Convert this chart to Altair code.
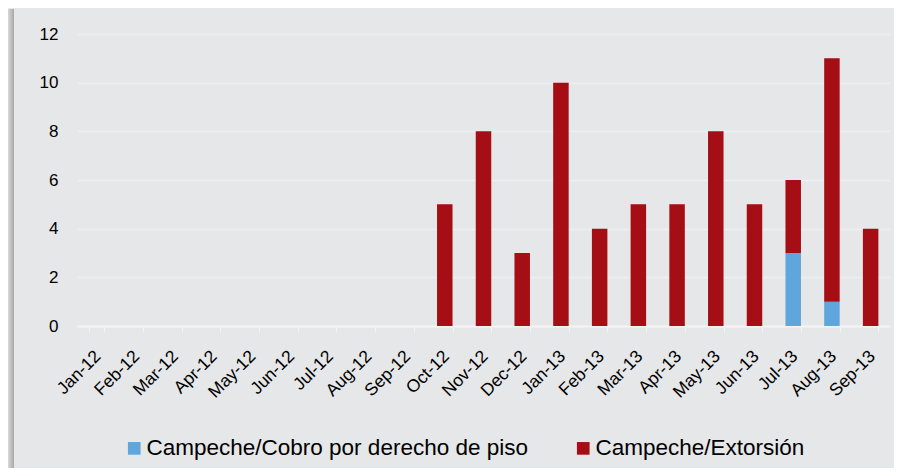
import altair as alt
import pandas as pd

months = ["Jan-12", "Feb-12", "Mar-12", "Apr-12", "May-12", "Jun-12", "Jul-12",
          "Aug-12", "Sep-12", "Oct-12", "Nov-12", "Dec-12", "Jan-13", "Feb-13",
          "Mar-13", "Apr-13", "May-13", "Jun-13", "Jul-13", "Aug-13", "Sep-13"]
cobro = [0, 0, 0, 0, 0, 0, 0, 0, 0, 0, 0, 0, 0, 0, 0, 0, 0, 0, 3, 1, 0]
extorsion = [0, 0, 0, 0, 0, 0, 0, 0, 0, 5, 8, 3, 10, 4, 5, 5, 8, 5, 3, 10, 4]
series = ["Campeche/Cobro por derecho de piso", "Campeche/Extorsión"]
colors = ["#5fa6dd", "#a50e14"]

rows = []
for i, m in enumerate(months):
    rows.append({"mes": m, "serie": series[0], "valor": cobro[i], "orden": 0})
    rows.append({"mes": m, "serie": series[1], "valor": extorsion[i], "orden": 1})
df = pd.DataFrame(rows)

FONT = "Liberation Sans"

bars = alt.Chart(df).mark_bar().encode(
    x=alt.X("mes:N", sort=months, title=None,
            scale=alt.Scale(paddingInner=0.6, paddingOuter=0.3),
            axis=alt.Axis(labelAngle=-45, labelFontSize=17.5, labelFont=FONT,
                          labelColor="#000000", domainColor="#f4f4f4",
                          tickColor="#f4f4f4", tickSize=6, tickBand="extent",
                          labelPadding=15, labelOffset=-5, domainWidth=2)),
    y=alt.Y("valor:Q", stack="zero", title=None,
            scale=alt.Scale(domain=[0, 12], nice=False),
            axis=alt.Axis(values=[0, 2, 4, 6, 8, 10, 12], labelFontSize=17,
                          labelFont=FONT, labelColor="#000000", domain=False,
                          ticks=False, labelPadding=19, gridColor="#eeeff0",
                          gridWidth=1.5)),
    color=alt.Color("serie:N", scale=alt.Scale(domain=series, range=colors),
                    legend=alt.Legend(title=None, orient="none", direction="horizontal",
                                      legendX=46, legendY=403, symbolType="square",
                                      symbolSize=160, symbolStrokeWidth=0,
                                      labelFontSize=22.5, labelFont=FONT,
                                      labelColor="#000000", columnPadding=44,
                                      labelOffset=1, padding=0, labelLimit=500)),
    order=alt.Order("orden:Q"),
)

shadow = alt.Chart(pd.DataFrame({"s": [0]})).mark_rect(
    fill=alt.Gradient(gradient="linear",
                      stops=[alt.GradientStop(offset=0, color="#d8d8d8"),
                             alt.GradientStop(offset=1, color="#a8a8a8")],
                      x1=0, x2=1, y1=0, y2=0)
).encode(x=alt.value(-69), x2=alt.value(-63), y=alt.value(-25), y2=alt.value(442))

chart = alt.layer(shadow, bars).properties(
    width=813, height=292,
    autosize=alt.AutoSizeParams(type="none"),
    padding={"left": 69, "top": 26, "right": 4, "bottom": 142},
    background="#e6e7e9",
).configure_view(stroke=None)

chart.save("out.html", embed_options={"renderer": "svg", "actions": False})
